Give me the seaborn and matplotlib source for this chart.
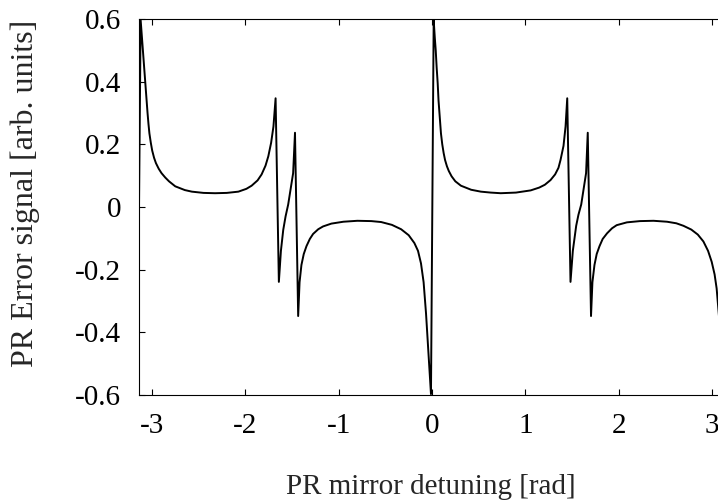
import matplotlib
matplotlib.use("Agg")
import matplotlib.pyplot as plt
import seaborn as sns
import pandas as pd

# Detuning [rad] and error signal [arb. units]
detuning = [
    -3.1416, -3.124, -3.110, -3.100, -3.087, -3.074, -3.060, -3.050, -3.040,
    -3.030, -3.015, -3.000, -2.980, -2.960, -2.930, -2.900, -2.860,
    -2.820, -2.753, -2.650, -2.575, -2.450, -2.326, -2.200, -2.076, -1.990,
    -1.934, -1.870, -1.827, -1.785, -1.755, -1.725, -1.700, -1.677, -1.642,
    -1.620, -1.595, -1.570, -1.542, -1.489, -1.469, -1.435, -1.420, -1.400,
    -1.375, -1.346, -1.310, -1.275, -1.220, -1.168, -1.079, -0.950, -0.800,
    -0.650, -0.545, -0.430, -0.331, -0.250, -0.189, -0.150, -0.118, -0.090,
    -0.064, -0.045, -0.029, -0.011,
    0.018, 0.030, 0.040, 0.050, 0.061, 0.070, 0.080, 0.090, 0.096, 0.110,
    0.125, 0.140, 0.160, 0.180, 0.210, 0.250, 0.310,
    0.420, 0.524, 0.630, 0.737, 0.900, 1.058, 1.150, 1.210, 1.271, 1.320,
    1.356, 1.378, 1.410, 1.432, 1.450, 1.485, 1.510, 1.546, 1.570, 1.600,
    1.652, 1.670, 1.705, 1.720, 1.742, 1.766, 1.796, 1.830, 1.877, 1.930,
    1.980, 2.090, 2.230, 2.375, 2.520, 2.620, 2.696, 2.780, 2.850, 2.910,
    2.960, 2.999, 3.030, 3.052, 3.075, 3.095, 3.112, 3.130, 3.1416,
]
error_signal = [
    0.000, 0.597, 0.540, 0.500, 0.445, 0.395, 0.340, 0.300, 0.265,
    0.235, 0.205, 0.180, 0.157, 0.140, 0.122, 0.108, 0.094,
    0.082, 0.066, 0.054, 0.049, 0.045, 0.044, 0.045, 0.049, 0.058,
    0.068, 0.085, 0.104, 0.132, 0.162, 0.205, 0.257, 0.347, -0.239,
    -0.140, -0.073, -0.030, 0.008, 0.108, 0.237, -0.348, -0.240, -0.185,
    -0.150, -0.125, -0.102, -0.086, -0.071, -0.062, -0.053, -0.047, -0.044,
    -0.045, -0.048, -0.057, -0.071, -0.090, -0.115, -0.140, -0.180, -0.240,
    -0.340, -0.430, -0.510, -0.597,
    0.597, 0.540, 0.500, 0.445, 0.395, 0.340, 0.300, 0.260, 0.235, 0.200,
    0.172, 0.150, 0.130, 0.115, 0.098, 0.082, 0.068,
    0.055, 0.049, 0.046, 0.044, 0.046, 0.053, 0.062, 0.071, 0.086, 0.104,
    0.125, 0.150, 0.195, 0.257, 0.347, -0.239, -0.140, -0.060, -0.025, 0.008,
    0.108, 0.237, -0.348, -0.240, -0.185, -0.150, -0.125, -0.102, -0.084, -0.068,
    -0.058, -0.049, -0.045, -0.044, -0.047, -0.052, -0.060, -0.072, -0.088, -0.110,
    -0.140, -0.175, -0.215, -0.260, -0.340, -0.420, -0.510, -0.597, 0.000,
]

x_ticks = [-3, -2, -1, 0, 1, 2, 3]
x_tick_labels = ["-3", "-2", "-1", "0", "1", "2", "3"]
y_ticks = [-0.6, -0.4, -0.2, 0.0, 0.2, 0.4, 0.6]
y_tick_labels = ["-0.6", "-0.4", "-0.2", "0", "0.2", "0.4", "0.6"]

df = pd.DataFrame({"detuning": detuning, "signal": error_signal})

sns.set_style("ticks")
plt.rcParams["font.family"] = ["Liberation Serif", "DejaVu Serif"]
plt.rcParams["axes.linewidth"] = 0.8

fig = plt.figure(figsize=(7.18, 5.0), dpi=100)
# axes extend slightly beyond the right edge (reference is clipped there)
ax = fig.add_axes([139 / 718, 105 / 500, 586 / 718, 376 / 500])

sns.lineplot(data=df, x="detuning", y="signal", ax=ax, color="black",
             linewidth=1.4, sort=False, estimator=None)

ax.set_xlim(-3.1416, 3.1416)
ax.set_ylim(-0.6, 0.6)
ax.set_xticks(x_ticks)
ax.set_xticklabels(x_tick_labels)
ax.set_yticks(y_ticks)
ax.set_yticklabels(y_tick_labels)
ax.tick_params(direction="in", length=4.3, width=0.8, top=True, right=True,
               labelsize=21, colors="black")
ax.tick_params(axis="x", pad=13)
ax.tick_params(axis="y", pad=13)
for s in ax.spines.values():
    s.set_visible(True)
    s.set_color("black")

ax.set_xlabel("PR mirror detuning [rad]", fontsize=21, va="center", ha="center")
ax.set_ylabel("PR Error signal [arb. units]", fontsize=23, va="center", ha="center")
ax.xaxis.set_label_coords((431 - 139) / 586, (395 - 487) / 376)
ax.yaxis.set_label_coords((25 - 139) / 586, (395 - 193) / 376)

fig.savefig("out.png", dpi=100)
